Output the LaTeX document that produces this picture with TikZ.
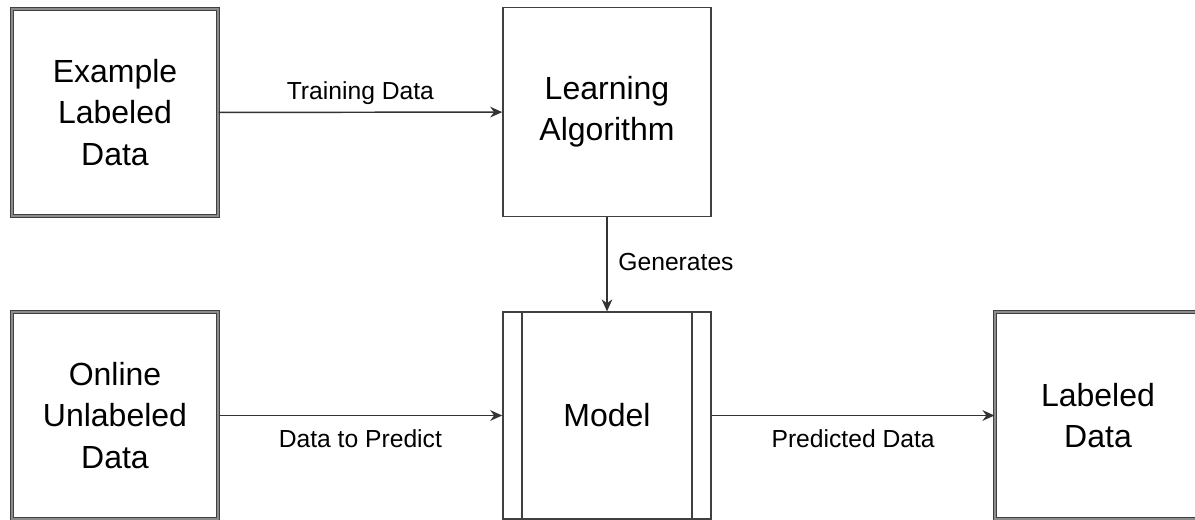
\documentclass[tikz,border=0pt]{standalone}
\usepackage{fontspec}
\setmainfont{Liberation Sans}
\usepackage{tikz}
\usetikzlibrary{arrows.meta}

\tikzset{
    box/.style={draw=black!75, line width=1.2pt, fill=white, align=center,
        minimum width=154.5pt, minimum height=155pt, inner sep=0pt,
        font=\fontsize{24}{31}\selectfont},
    dbox/.style={box, line width=0.8pt, double=black!45, double distance=1.2pt},
    link/.style={draw=black!80, line width=1.1pt, -{Stealth[length=9pt,width=8pt]}},
    lbl/.style={font=\fontsize{18.5}{22}\selectfont, inner sep=2pt}
}

\begin{document}
\begin{tikzpicture}[x=0.75pt,y=-0.75pt]
        \clip (0,0) rectangle (1195,520);

        \node[dbox] (ex) at (115,112.5) {Example\\Labeled\\Data};
        \node[box, minimum width=156pt, minimum height=157pt] (alg) at (607,112) {Learning\\Algorithm};
        \node[dbox] (onl) at (115,415.5) {Online\\Unlabeled\\Data};
        \node[box, minimum width=156pt] (mod) at (607,415.5) {Model};
        \node[dbox] (lab) at (1098,415.5) {Labeled\\Data};

        \draw[draw=black!75, line width=1.2pt] ([xshift=15pt]mod.north west) -- ([xshift=15pt]mod.south west);
        \draw[draw=black!75, line width=1.2pt] ([xshift=-15pt]mod.north east) -- ([xshift=-15pt]mod.south east);

        \draw[link] (ex) -- node[lbl, above=3pt] {Training Data} (alg);
        \draw[link] (alg) -- node[lbl, right=6pt, yshift=2pt] {Generates} (mod);
        \draw[link] (onl) -- node[lbl, below=8pt] {Data to Predict} (mod);
        \draw[link] (mod) -- node[lbl, below=8pt] {Predicted Data} (lab);
    \end{tikzpicture}
\end{document}
